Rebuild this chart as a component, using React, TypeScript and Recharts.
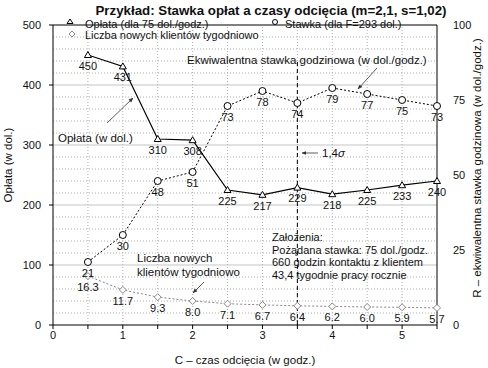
import React from "react";
import {
  ComposedChart,
  Line,
  XAxis,
  YAxis,
  ReferenceLine,
  LabelList,
} from "recharts";

const cutoffHours = [0.5, 1, 1.5, 2, 2.5, 3, 3.5, 4, 4.5, 5, 5.5];
const fee = [450, 431, 310, 308, 225, 217, 229, 218, 225, 233, 240];
const rate = [21, 30, 48, 51, 73, 78, 74, 79, 77, 75, 73];
const newClients = [16.3, 11.7, 9.3, 8.0, 7.1, 6.7, 6.4, 6.2, 6.0, 5.9, 5.7];

const xTicks = [0, 0.5, 1, 1.5, 2, 2.5, 3, 3.5, 4, 4.5, 5, 5.5];
const feeTicks = [0, 100, 200, 300, 400, 500];
const rateTicks = [0, 25, 50, 75, 100];
const minorGrid = [20, 40, 60, 80, 120, 140, 160, 180, 220, 240, 260, 280, 320, 340, 360, 380, 420, 440, 460, 480];
const majorGrid = [100, 200, 300, 400, 500];
const sigmaLine = 3.5;

const data = cutoffHours.map((c, i) => ({
  c,
  fee: fee[i],
  rate: rate[i],
  clients: newClients[i],
}));

const FONT = "'Liberation Sans', Arial, sans-serif";

const TriangleDot = (props: any) => {
  const { cx, cy, index } = props;
  return (
    <path
      key={`t-${index}`}
      d={`M${cx},${cy - 3.5} L${cx + 3.5},${cy + 2.5} L${cx - 3.5},${cy + 2.5} Z`}
      fill="#fff"
      stroke="#000"
      strokeWidth={1}
    />
  );
};

const CircleDot = (props: any) => {
  const { cx, cy, index } = props;
  return <circle key={`c-${index}`} cx={cx} cy={cy} r={3.5} fill="#fff" stroke="#000" strokeWidth={1} />;
};

const DiamondDot = (props: any) => {
  const { cx, cy, index } = props;
  return (
    <path
      key={`d-${index}`}
      d={`M${cx},${cy - 3.5} L${cx + 3.5},${cy} L${cx},${cy + 3.5} L${cx - 3.5},${cy} Z`}
      fill="#fff"
      stroke="#888"
      strokeWidth={1}
    />
  );
};

const labelStyle = { fontSize: 11, fill: "#111", fontFamily: FONT };

export default function App() {
  return (
    <div style={{ position: "absolute", left: 0, top: 0, width: 488, height: 368, background: "#fff", fontFamily: FONT }}>
      <ComposedChart width={488} height={368} data={data} margin={{ top: 25, right: 0, bottom: 0, left: 0 }}>
        {minorGrid.map((v) => (
          <ReferenceLine key={`mg-${v}`} yAxisId="fee" y={v} stroke="#b0b0b0" strokeDasharray="1 2" />
        ))}
        {majorGrid.map((v) => (
          <ReferenceLine key={`Mg-${v}`} yAxisId="fee" y={v} stroke={v === 500 ? "#000" : "#c4c4c4"} />
        ))}
        {xTicks.slice(1, -1).map((v) => (
          <ReferenceLine key={`vg-${v}`} yAxisId="fee" x={v} stroke="#b0b0b0" strokeDasharray="1 2" />
        ))}
        <XAxis
          dataKey="c"
          type="number"
          domain={[0, 5.5]}
          ticks={xTicks}
          interval={0}
          height={43}
          stroke="#000"
          tickSize={4}
          tick={{ fontSize: 11, fill: "#111", fontFamily: FONT }}
          tickFormatter={(v: number) => (Number.isInteger(v) ? String(v) : "")}
        />
        <YAxis
          yAxisId="fee"
          domain={[0, 500]}
          ticks={feeTicks}
          width={53}
          stroke="#000"
          tickSize={4}
          tickMargin={8}
          tick={{ fontSize: 11, fill: "#111", fontFamily: FONT }}
        />
        <YAxis
          yAxisId="rate"
          orientation="right"
          domain={[0, 100]}
          ticks={rateTicks}
          width={51}
          stroke="#000"
          tickSize={0}
          tickMargin={16}
          tick={{ fontSize: 11, fill: "#111", fontFamily: FONT }}
        />
        <ReferenceLine
          yAxisId="fee"
          segment={[
            { x: sigmaLine, y: 0 },
            { x: sigmaLine, y: 440 },
          ]}
          stroke="#000"
          strokeDasharray="4 3"
        />
        <Line
          yAxisId="rate"
          dataKey="clients"
          stroke="#888"
          strokeDasharray="2 2"
          strokeWidth={1}
          dot={DiamondDot}
          isAnimationActive={false}
        >
          <LabelList dataKey="clients" position="bottom" offset={7} style={labelStyle} formatter={(v: any) => Number(v).toFixed(1)} />
        </Line>
        <Line
          yAxisId="rate"
          dataKey="rate"
          stroke="#000"
          strokeDasharray="2 2"
          strokeWidth={1}
          dot={CircleDot}
          isAnimationActive={false}
        >
          <LabelList dataKey="rate" position="bottom" offset={7} style={labelStyle} />
        </Line>
        <Line
          yAxisId="fee"
          dataKey="fee"
          stroke="#000"
          strokeWidth={1.2}
          dot={TriangleDot}
          isAnimationActive={false}
        >
          <LabelList dataKey="fee" position="bottom" offset={7} style={labelStyle} />
        </Line>
      </ComposedChart>
      <svg
        width={488}
        height={368}
        style={{ position: "absolute", left: 0, top: 0, pointerEvents: "none" }}
        fontFamily={FONT}
        fill="#111"
      >
        <defs>
          <marker id="ah" viewBox="0 0 10 10" refX="9" refY="5" markerWidth="6" markerHeight="6" orient="auto-start-reverse">
            <path d="M0,1 L10,5 L0,9 Z" fill="#333" />
          </marker>
        </defs>
        <text x={271} y={15} textAnchor="middle" fontSize={13.3} fontWeight="bold">
          Przykład: Stawka opłat a czasy odcięcia (m=2,1, s=1,02)
        </text>
        {/* legend */}
        <path d="M70,19 L73,23.5 L67,23.5 Z" fill="#fff" stroke="#000" />
        <text x={85} y={28} fontSize={11}>Opłata (dla 75 dol./godz.)</text>
        <circle cx={275} cy={22} r={2.5} fill="#fff" stroke="#000" />
        <text x={285} y={28} fontSize={11}>Stawka (dla F=293 dol.)</text>
        <path d="M72,31 L75,34 L72,37 L69,34 Z" fill="#fff" stroke="#888" />
        <text x={85} y={39} fontSize={11}>Liczba nowych klientów tygodniowo</text>
        {/* axis titles */}
        <text transform="translate(12,165) rotate(-90)" textAnchor="middle" fontSize={11.5}>Opłata (w dol.)</text>
        <text transform="translate(481,168) rotate(-90)" textAnchor="middle" fontSize={11.5}>
          R – ekwiwalentna stawka godzinowa (w dol./godz.)
        </text>
        <text x={245} y={364} textAnchor="middle" fontSize={11.5}>C – czas odcięcia (w godz.)</text>
        {/* annotations */}
        <text x={187} y={64} fontSize={11.5}>Ekwiwalentna stawka godzinowa (w dol./godz.)</text>
        <line x1={377} y1={68} x2={358} y2={89} stroke="#333" strokeWidth={0.8} markerEnd="url(#ah)" />
        <text x={58} y={142} fontSize={11.5}>Opłata (w dol.)</text>
        <line x1={107} y1={123} x2={133} y2={98} stroke="#333" strokeWidth={0.8} markerEnd="url(#ah)" />
        <text x={137} y={262} fontSize={11.5}>Liczba nowych</text>
        <text x={137} y={276} fontSize={11.5}>klientów tygodniowo</text>
        <line x1={204} y1={282} x2={193} y2={293} stroke="#333" strokeWidth={0.8} markerEnd="url(#ah)" />
        <line x1={318} y1={153} x2={302} y2={153} stroke="#333" strokeWidth={0.8} markerEnd="url(#ah)" />
        <text x={322} y={157} fontSize={11.5}>
          1,4<tspan fontStyle="italic">σ</tspan>
        </text>
        <text x={272} y={241} fontSize={11}>Założenia:</text>
        <text x={272} y={254} fontSize={11}>Pożądana stawka: 75 dol./godz.</text>
        <text x={272} y={266} fontSize={11}>660 godzin kontaktu z klientem</text>
        <text x={272} y={279} fontSize={11}>43,4 tygodnie pracy rocznie</text>
      </svg>
    </div>
  );
}
